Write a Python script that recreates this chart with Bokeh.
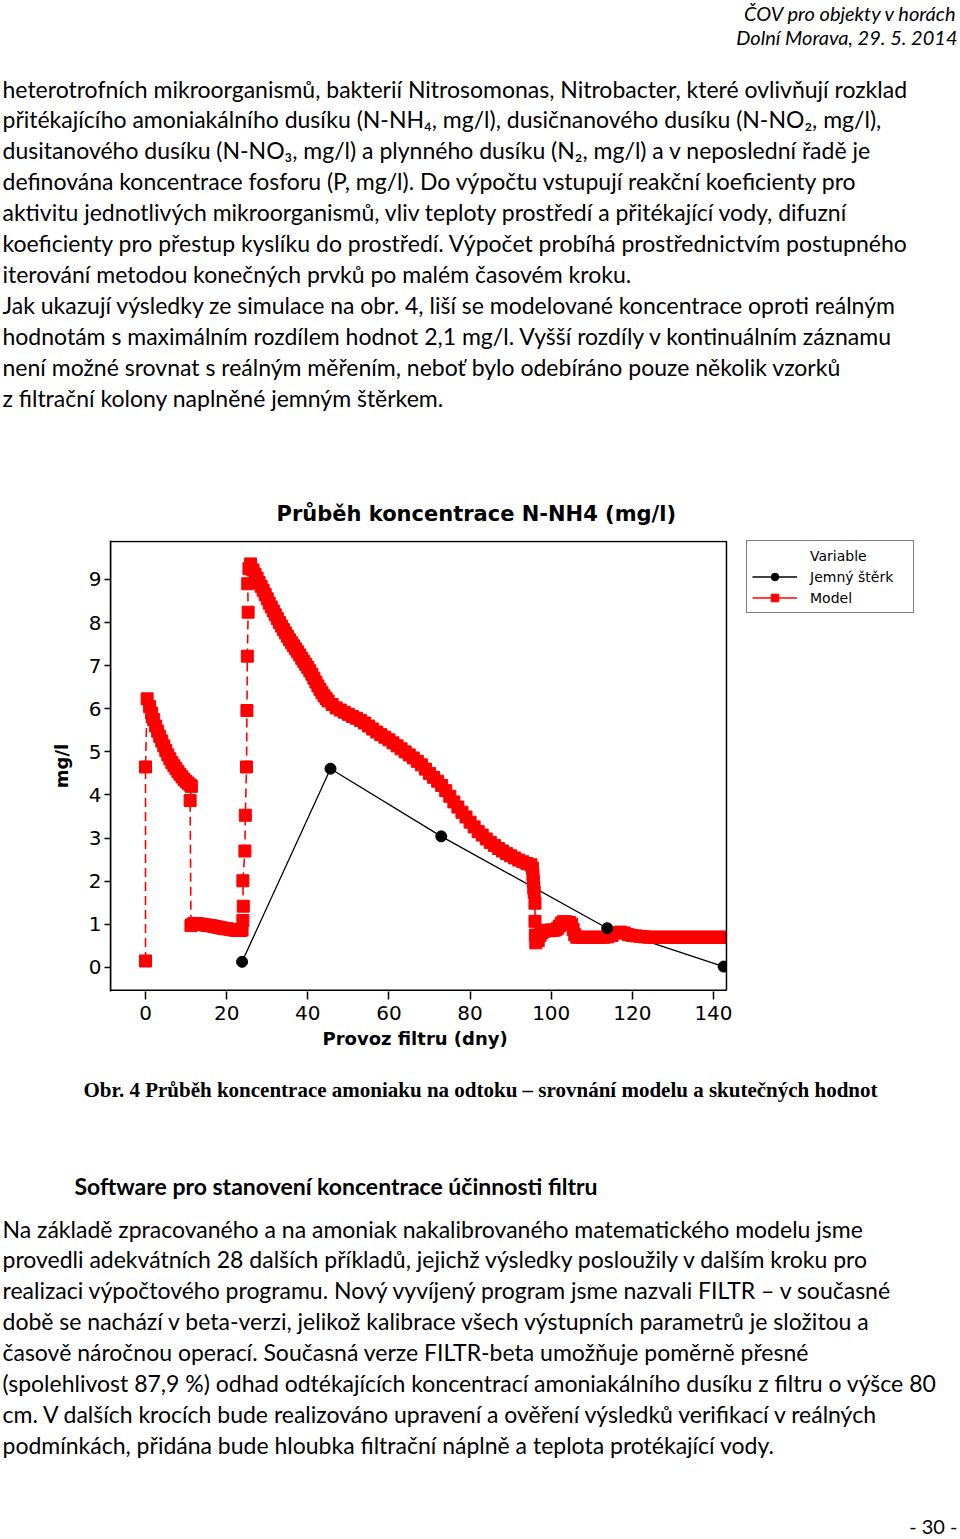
from bokeh.plotting import figure
from bokeh.models import Range1d, Legend, LegendItem, FixedTicker, Title
from bokeh.layouts import column
from bokeh.embed import file_html
from bokeh.resources import INLINE
from bokeh.core.properties import value

# ---------------- data ----------------
chart_title = "Průběh koncentrace N-NH4 (mg/l)"
x_label = "Provoz filtru (dny)"
y_label = "mg/l"
x_ticks = [0, 20, 40, 60, 80, 100, 120, 140]
y_ticks = [0, 1, 2, 3, 4, 5, 6, 7, 8, 9]
legend_title = "Variable"
series_names = ["Jemný štěrk", "Model"]

gravel_day = [23.8, 45.6, 72.9, 113.8, 142.5]
gravel_conc = [0.13, 4.61, 3.04, 0.91, 0.02]

model_day = [
    0, 0, 0.4, 1.0, 1.5, 2.0, 2.5, 3.0, 3.5, 4.0, 4.5, 5.0, 5.5, 6.0, 6.5, 7.0, 7.5, 8.0, 8.5, 9.0,
    9.5, 10.0, 10.5, 11.0, 11.3,
    11.0,
    11.2, 11.6, 12, 12.5, 13, 13.5, 14, 14.5, 15, 15.5, 16, 16.5, 17, 17.5, 18, 18.5, 19, 19.5,
    20, 20.5, 21, 21.5, 22, 22.5, 23, 23.5, 23.8,
    24.0, 24.1, 24.0, 24.5, 24.6, 24.9, 25.0, 25.1, 25.3, 25.2, 25.5, 25.9,
    26.5, 27, 27.5, 28, 28.5, 29, 29.5, 30, 30.5, 31, 31.5, 32, 32.5, 33, 33.5, 34, 34.5, 35,
    35.5, 36, 36.5, 37, 37.5, 38, 38.5, 39, 39.5, 40, 40.5, 41, 41.5, 42, 42.5, 43, 43.5, 44,
    44.5, 45, 46, 47, 48, 49, 50, 51, 52, 53, 54, 55, 56, 57, 58, 59, 60, 61, 62, 63, 64, 65,
    66, 67, 68, 69, 70, 71, 72, 73, 74, 75, 76, 77, 78, 79, 80, 81, 82, 83, 84, 85, 86, 87, 88,
    89, 90, 91, 92, 93, 94, 95,
    95.4, 95.5, 95.6, 95.7, 95.8, 96.0, 96.0, 96.1, 96.2, 96.5, 96.8, 97.2, 97.6, 98, 98.5, 99,
    99.5, 100, 100.5, 101, 101.5, 102, 102.5, 103, 103.5, 104, 104.5, 105, 105.4, 105.8, 106.3,
    107, 108, 109, 110, 111, 112, 113, 114, 115, 116, 117, 118, 119, 120, 121, 122, 123, 124,
    125, 126, 127, 128, 129, 130, 131, 132, 133, 134, 135, 136, 137, 138, 139, 140, 141, 142, 143,
]
model_conc = [
    0.15, 4.65, 6.23, 6.05, 5.90, 5.75, 5.60, 5.48, 5.36, 5.25, 5.14, 5.03, 4.93, 4.84, 4.75,
    4.68, 4.61, 4.54, 4.48, 4.42, 4.36, 4.31, 4.27, 4.23, 4.20,
    3.87,
    0.97, 1.00, 1.02, 1.02, 1.01, 1.00, 1.00, 0.99, 0.98, 0.97, 0.97, 0.96, 0.95, 0.94, 0.93,
    0.92, 0.91, 0.90, 0.90, 0.89, 0.88, 0.87, 0.87, 0.86, 0.86, 0.86, 0.87,
    1.09, 1.42, 2.01, 2.70, 3.53, 4.65, 5.96, 7.22, 8.24, 8.90, 9.25, 9.36,
    9.22, 9.12, 9.03, 8.93, 8.84, 8.75, 8.65, 8.55, 8.45, 8.36, 8.27, 8.18, 8.09, 8.00, 7.92,
    7.84, 7.76, 7.68, 7.60, 7.53, 7.46, 7.39, 7.32, 7.25, 7.17, 7.10, 7.03, 6.96, 6.88, 6.80,
    6.71, 6.62, 6.53, 6.45, 6.37, 6.30, 6.24, 6.18, 6.10, 6.02, 5.97, 5.92, 5.87, 5.82, 5.78,
    5.73, 5.67, 5.60, 5.53, 5.46, 5.40, 5.34, 5.28, 5.21, 5.14, 5.07, 5.00, 4.93, 4.86, 4.78,
    4.70, 4.60, 4.50, 4.41, 4.32, 4.22, 4.10, 3.97, 3.84, 3.72, 3.60, 3.49, 3.37, 3.26, 3.15,
    3.07, 2.98, 2.90, 2.83, 2.76, 2.70, 2.64, 2.59, 2.54, 2.49, 2.45, 2.41, 2.38,
    2.30, 2.15, 2.00, 1.85, 1.75, 1.49, 1.07, 0.75, 0.57, 0.68, 0.62, 0.74, 0.80, 0.83, 0.85,
    0.86, 0.85, 0.87, 0.86, 0.87, 0.90, 0.96, 1.03, 1.06, 1.06, 1.05, 1.04, 1.00, 0.88, 0.76,
    0.70,
    0.70, 0.70, 0.70, 0.70, 0.70, 0.70, 0.70, 0.71, 0.74, 0.80, 0.82, 0.80, 0.76, 0.74, 0.73,
    0.72, 0.71, 0.70, 0.70, 0.70, 0.70, 0.70, 0.70, 0.70, 0.70, 0.70, 0.70, 0.70, 0.70, 0.70,
    0.70, 0.70, 0.70, 0.70, 0.70, 0.70, 0.70, 0.70,
]

# extent of the drawn data box (axis limits of the original chart)
box_x = (-8.63, 143.2)
box_y = (-0.53, 9.88)

header_lines = ["ČOV pro objekty v horách", "Dolní Morava, 29. 5. 2014"]
para1_lines = [
    "heterotrofních mikroorganismů, bakterií Nitrosomonas, Nitrobacter, které ovlivňují rozklad",
    "přitékajícího amoniakálního dusíku (N-NH₄, mg/l), dusičnanového dusíku (N-NO₂, mg/l),",
    "dusitanového dusíku (N-NO₃, mg/l) a plynného dusíku (N₂, mg/l) a v neposlední řadě je",
    "definována koncentrace fosforu (P, mg/l). Do výpočtu vstupují reakční koeficienty pro",
    "aktivitu jednotlivých mikroorganismů, vliv teploty prostředí a přitékající vody, difuzní",
    "koeficienty pro přestup kyslíku do prostředí. Výpočet probíhá prostřednictvím postupného",
    "iterování metodou konečných prvků po malém časovém kroku.",
    "Jak ukazují výsledky ze simulace na obr. 4, liší se modelované koncentrace oproti reálným",
    "hodnotám s maximálním rozdílem hodnot 2,1 mg/l. Vyšší rozdíly v kontinuálním záznamu",
    "není možné srovnat s reálným měřením, neboť bylo odebíráno pouze několik vzorků",
    "z filtrační kolony naplněné jemným štěrkem.",
]
caption = "Obr. 4 Průběh koncentrace amoniaku na odtoku – srovnání modelu a skutečných hodnot"
heading = "Software pro stanovení koncentrace účinnosti filtru"
para2_lines = [
    "Na základě zpracovaného a na amoniak nakalibrovaného matematického modelu jsme",
    "provedli adekvátních 28 dalších příkladů, jejichž výsledky posloužily v dalším kroku pro",
    "realizaci výpočtového programu. Nový vyvíjený program jsme nazvali FILTR – v současné",
    "době se nachází v beta-verzi, jelikož kalibrace všech výstupních parametrů je složitou a",
    "časově náročnou operací. Současná verze FILTR-beta umožňuje poměrně přesné",
    "(spolehlivost 87,9 %) odhad odtékajících koncentrací amoniakálního dusíku z filtru o výšce 80",
    "cm. V dalších krocích bude realizováno upravení a ověření výsledků verifikací v reálných",
    "podmínkách, přidána bude hloubka filtrační náplně a teplota protékající vody.",
]
page_number = "- 30 -"

# ---------------- layout ----------------
W = 960
BODY = "Lato"
BODY_SIZE = "23px"
LINE = 30.9


def text_fig(y0, y1):
    f = figure(width=W, height=y1 - y0, x_range=Range1d(0, W), y_range=Range1d(y1, y0),
               x_axis_type=None, y_axis_type=None, output_backend="svg",
               toolbar_location=None, min_border=0, outline_line_color=None,
               frame_align=False)
    return f


# top text
top = text_fig(0, 470)
top.text(x=[957, 957], y=[12, 36], text=header_lines, text_align="right",
         text_baseline="middle", text_font=value(BODY), text_font_style="italic",
         text_font_size="20px", text_color="black")
ys1 = [88 + LINE * i for i in range(len(para1_lines))]
top.text(x=[2] * len(para1_lines), y=ys1, text=para1_lines, text_align="left",
         text_baseline="middle", text_font=value(BODY), text_font_size=BODY_SIZE, text_color="black")

# chart: frame spans the data box plus the legend area on its right
CF = "DejaVu Sans"
PX_DAY = 4.057
PX_UNIT = 43.11
FRAME_L, FRAME_R, FRAME_T, FRAME_B = 110, 930, 540, 991
x0 = box_x[0]
x1 = x0 + (FRAME_R - FRAME_L) / PX_DAY
y1 = box_y[1] + 1 / PX_UNIT
y0 = y1 - (FRAME_B - FRAME_T) / PX_UNIT
CH_TOP, CH_BOT = 470, 1065
p = figure(width=W, height=CH_BOT - CH_TOP, x_range=Range1d(x0, x1), y_range=Range1d(y0, y1),
           output_backend="svg", toolbar_location=None, frame_align=False,
           min_border_left=FRAME_L, min_border_right=W - FRAME_R,
           min_border_top=FRAME_T - CH_TOP, min_border_bottom=CH_BOT - FRAME_B,
           background_fill_color="white", border_fill_color="white")
p.title.text = chart_title
p.title.align = "left"
p.title.offset = 166
p.title.text_font = CF
p.title.text_font_style = "bold"
p.title.text_font_size = "21px"
p.title.standoff = 29
p.title.text_color = "black"

p.grid.visible = False
p.outline_line_color = None
p.xaxis.ticker = FixedTicker(ticks=x_ticks)
p.yaxis.ticker = FixedTicker(ticks=y_ticks)
p.yaxis.axis_label = y_label
for ax in (p.xaxis, p.yaxis):
    ax.axis_line_color = "black"
    ax.axis_line_width = 1.5
    ax.major_tick_line_color = "black"
    ax.major_tick_line_width = 1.5
    ax.major_tick_in = 0
    ax.minor_tick_line_color = None
    ax.major_label_text_font = CF
    ax.major_label_text_font_size = "20px"
    ax.major_label_text_color = "black"
    ax.axis_label_text_font = CF
    ax.axis_label_text_font_style = "bold"
    ax.axis_label_text_font_size = "18px"
    ax.axis_label_text_color = "black"
p.xaxis.axis_line_color = None
p.xaxis.major_tick_out = 8
p.yaxis.major_tick_out = 6
p.xaxis.major_label_standoff = 6
p.yaxis.major_label_standoff = 3
p.yaxis.axis_label_standoff = 14

# x-axis title centred under the data box (not under the wider frame)
xt = Title(text=x_label, align="left", offset=212, standoff=6, text_font=CF,
           text_font_style="bold", text_font_size="18px", text_color="black")
p.add_layout(xt, "below")

RED = "#ff0000"
g_line = p.line(gravel_day, gravel_conc, line_color="black", line_width=1.3)
m_line = p.line(model_day, model_conc, line_color=RED, line_width=1.6, line_dash="9 5")
m_pts = p.scatter(model_day, model_conc, marker="square", size=12, color=RED)
g_pts = p.scatter(gravel_day, gravel_conc, marker="circle", size=11, color="black")
# legend keys (a single point draws no visible line in the chart)
m_key = p.line(model_day[:1], model_conc[:1], line_color=RED, line_width=1.6)
v_key = p.scatter([], [], marker="circle", size=1, alpha=0)

# white cover right of the data box (clips marks at the box edge), then the box outline
p.quad(left=[box_x[1]], right=[x1], bottom=[y0], top=[y1],
       fill_color="white", line_color=None)
p.quad(left=[box_x[0]], right=[box_x[1]], bottom=[box_y[0]], top=[box_y[1]],
       fill_color=None, line_color="black", line_width=1.5)

legend = Legend(items=[
    LegendItem(label=legend_title, renderers=[v_key]),
    LegendItem(label=series_names[0], renderers=[g_line, g_pts]),
    LegendItem(label=series_names[1], renderers=[m_key, m_pts]),
])
legend.location = (746 - FRAME_L, FRAME_B - 613)
legend.margin = 0
legend.padding = 5
legend.spacing = 2
legend.glyph_width = 45
legend.glyph_height = 19
legend.label_height = 19
legend.label_width = 98
legend.label_standoff = 13
legend.label_text_font = CF
legend.label_text_font_size = "14px"
legend.label_text_color = "black"
legend.border_line_color = "black"
legend.border_line_width = 1.5
legend.background_fill_color = "white"
legend.background_fill_alpha = 1
p.add_layout(legend)

# bottom text
bot = text_fig(1065, 1536)
bot.text(x=[480], y=[1089], text=[caption], text_align="center", text_baseline="middle",
         text_font=value("Liberation Serif"), text_font_style="bold", text_font_size="21px",
         text_color="black")
bot.text(x=[74], y=[1185], text=[heading], text_align="left", text_baseline="middle",
         text_font=value(BODY), text_font_style="bold", text_font_size=BODY_SIZE, text_color="black")
ys2 = [1228 + LINE * i for i in range(len(para2_lines))]
bot.text(x=[2] * len(para2_lines), y=ys2, text=para2_lines, text_align="left",
         text_baseline="middle", text_font=value(BODY), text_font_size=BODY_SIZE, text_color="black")
bot.text(x=[957], y=[1525], text=[page_number], text_align="right", text_baseline="middle",
         text_font=value(BODY), text_font_size="20px", text_color="black")

layout = column(top, p, bot, spacing=0)
open("out.html", "w").write(file_html(layout, INLINE))
